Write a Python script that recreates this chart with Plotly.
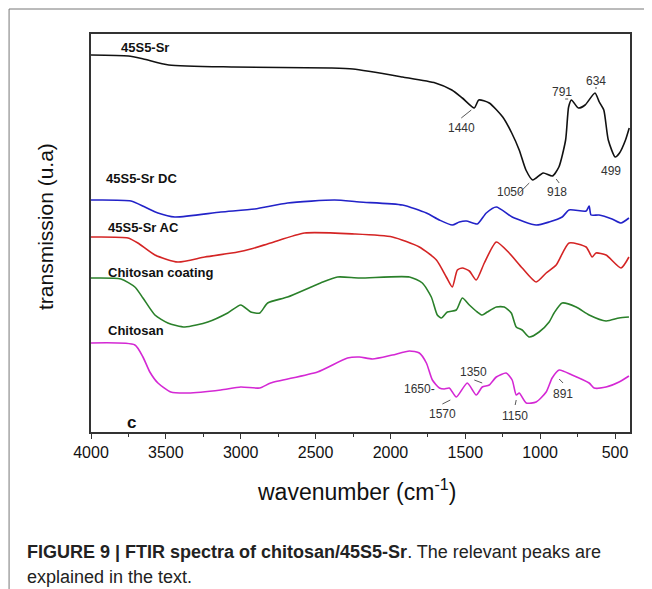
import plotly.graph_objects as go

# ---------------- data (wavenumber, transmission a.u.) ----------------
bk_wn = [4000, 3750, 3650, 3480, 3050, 2400, 2250, 1920, 1700, 1590, 1520, 1440, 1410, 1340, 1250, 1190, 1140, 1095, 1050, 980, 918, 875, 830, 810, 791, 745, 700, 634, 605, 575, 545, 499, 470, 430, 405]
bk_t = [377, 376, 373, 367, 365, 364, 363, 355, 349, 342, 334, 324, 332, 329, 315, 299, 282, 262, 252, 259, 256, 265, 292, 325, 332, 324, 327, 339, 330, 322, 292, 275, 279, 292, 304]

bl_wn = [4000, 3733, 3640, 3553, 3440, 3133, 2907, 2687, 2373, 2207, 1920, 1760, 1673, 1587, 1540, 1493, 1420, 1360, 1293, 1187, 1027, 940, 853, 807, 693, 673, 660, 607, 520, 460, 407]
bl_t = [232, 231, 225, 219, 215, 220, 223, 229, 232, 230, 227, 219, 212, 207, 210, 211, 208, 219, 225, 215, 207, 210, 215, 222, 221, 226, 217, 217, 213, 209, 214]

rd_wn = [4000, 3753, 3687, 3573, 3420, 3240, 3020, 2933, 2800, 2573, 2240, 1987, 1807, 1693, 1627, 1587, 1553, 1520, 1473, 1427, 1373, 1293, 1207, 1120, 1027, 960, 893, 807, 693, 653, 627, 560, 460, 407]
rd_t = [195, 194, 189, 177, 170, 175, 180, 183, 189, 199, 198, 195, 185, 172, 155, 145, 162, 164, 161, 152, 169, 190, 179, 164, 150, 159, 167, 189, 185, 175, 179, 177, 164, 175]

gr_wn = [4000, 3800, 3707, 3653, 3573, 3487, 3373, 3220, 3087, 3000, 2933, 2873, 2820, 2687, 2467, 2353, 2207, 1873, 1787, 1727, 1687, 1660, 1620, 1560, 1520, 1473, 1420, 1387, 1353, 1293, 1240, 1193, 1160, 1120, 1073, 1007, 940, 907, 853, 760, 673, 560, 473, 407]
gr_t = [154, 153, 145, 134, 117, 109, 105, 110, 119, 127, 120, 119, 129, 135, 149, 155, 154, 155, 149, 135, 117, 114, 120, 122, 134, 127, 120, 117, 120, 125, 125, 119, 105, 102, 95, 100, 110, 119, 129, 125, 117, 111, 114, 115]

mg_wn = [4000, 3707, 3653, 3607, 3553, 3467, 3353, 3133, 3000, 2873, 2800, 2487, 2287, 2207, 2120, 1987, 1873, 1807, 1760, 1720, 1673, 1640, 1607, 1560, 1487, 1427, 1387, 1340, 1293, 1227, 1187, 1160, 1140, 1093, 1027, 960, 920, 873, 787, 673, 640, 560, 473, 407]
mg_t = [89, 87, 75, 60, 49, 40, 39, 42, 45, 44, 49, 60, 74, 75, 73, 77, 81, 79, 69, 52, 44, 43, 44, 35, 49, 37, 45, 47, 55, 59, 52, 37, 39, 29, 30, 40, 54, 62, 57, 49, 44, 45, 50, 56]

series_names = ["45S5-Sr", "45S5-Sr DC", "45S5-Sr AC", "Chitosan coating", "Chitosan"]
series_colors = ["#111111", "#2222c8", "#d42424", "#2a802a", "#d428d4"]
series_label_pos = [(3813, 385), (3913, 254), (3900, 205), (3900, 160), (3900, 102)]

# peak labels: text, x, y
peak_labels = [("1440", 1527, 304), ("1050", 1200, 240), ("918", 887, 240), ("791", 853, 340),
               ("634", 627, 351), ("499", 527, 261),
               ("1570", 1653, 18), ("1350", 1447, 60), ("1150", 1167, 16), ("891", 847, 38)]
# leader lines: x0, y0, x1, y1
leaders = [(1527, 314, 1460, 322), (1140, 239, 1073, 249), (893, 253, 873, 249), (833, 333, 813, 333),
           (627, 343, 627, 345), (1653, 28, 1600, 32), (1440, 52, 1387, 49), (1167, 27, 1160, 32),
           (873, 53, 847, 49)]

FONT = "Liberation Sans, Arial"

fig = go.Figure()
for wn, t, c, n in zip([bk_wn, bl_wn, rd_wn, gr_wn, mg_wn], [bk_t, bl_t, rd_t, gr_t, mg_t],
                       series_colors, series_names):
    fig.add_trace(go.Scatter(x=wn, y=t, mode="lines", name=n,
                             line=dict(color=c, width=1.6, shape="spline", smoothing=0.6)))

ann = []
for n, (x, y) in zip(series_names, series_label_pos):
    ann.append(dict(x=x, y=y, text="<b>%s</b>" % n, showarrow=False, xanchor="left", yanchor="middle",
                    font=dict(family=FONT, size=13, color="#111")))
ann.append(dict(x=3727, y=10, text="<b>c</b>", showarrow=False, xanchor="center", yanchor="middle",
                font=dict(family=FONT, size=17, color="#111")))
for txt, x, y in peak_labels:
    ann.append(dict(x=x, y=y, text=txt, showarrow=False, xanchor="center", yanchor="middle",
                    font=dict(family=FONT, size=12, color="#333")))
ann.append(dict(x=1687, y=43, text="1650-", showarrow=False, xanchor="right", yanchor="middle",
                font=dict(family=FONT, size=12, color="#333")))

# axis titles & caption (paper coordinates)
ann.append(dict(x=0.4935, y=-0.1457, xref="paper", yref="paper", text="wavenumber (cm<sup>-1</sup>)",
                showarrow=False, xanchor="center", yanchor="middle",
                font=dict(family=FONT, size=23, color="#111")))
ann.append(dict(x=-0.0853, y=0.515, xref="paper", yref="paper", text="transmission (u.a)",
                showarrow=False, textangle=-90, xanchor="center", yanchor="middle",
                font=dict(family=FONT, size=21, color="#111")))
ann.append(dict(x=-0.1224, y=-0.3015, xref="paper", yref="paper",
                text="<b>FIGURE 9 | FTIR spectra of chitosan/45S5-Sr</b>. The relevant peaks are",
                showarrow=False, xanchor="left", yanchor="middle",
                font=dict(family=FONT, size=18, color="#222")))
ann.append(dict(x=-0.1224, y=-0.3643, xref="paper", yref="paper", text="explained in the text.",
                showarrow=False, xanchor="left", yanchor="middle",
                font=dict(family=FONT, size=18, color="#222")))

shapes = []
for x0, y0, x1, y1 in leaders:
    shapes.append(dict(type="line", x0=x0, y0=y0, x1=x1, y1=y1, line=dict(color="#444", width=0.9)))
# outer figure frame (top and left rules)
shapes.append(dict(type="line", xref="paper", yref="paper", x0=-0.152, y0=1.0628, x1=1.06, y1=1.0628,
                   line=dict(color="#777", width=1)))
shapes.append(dict(type="line", xref="paper", yref="paper", x0=-0.152, y0=1.0628, x1=-0.152, y1=-0.42,
                   line=dict(color="#777", width=1)))

# page body adds an 8 px offset; margins compensate so the plot area sits at x 91-630, y 34-432
fig.update_layout(
    width=652, height=589,
    margin=dict(l=83, r=30, t=26, b=165),
    paper_bgcolor="white", plot_bgcolor="white",
    showlegend=False,
    annotations=ann, shapes=shapes,
    xaxis=dict(range=[4000, 400], showgrid=False, zeroline=False, showline=True, mirror=True,
               linecolor="#333", linewidth=1.5, ticks="outside", ticklen=5, tickwidth=1.2, tickcolor="#333",
               tickvals=[4000, 3500, 3000, 2500, 2000, 1500, 1000, 500],
               minor=dict(ticks="outside", ticklen=3, tickwidth=1, tickcolor="#333", dtick=250, tick0=0),
               tickfont=dict(family=FONT, size=16, color="#111")),
    yaxis=dict(range=[0, 398], showgrid=False, zeroline=False, showline=True, mirror=True,
               linecolor="#333", linewidth=1.5, showticklabels=False, ticks=""),
)

fig.write_html("out.html")
